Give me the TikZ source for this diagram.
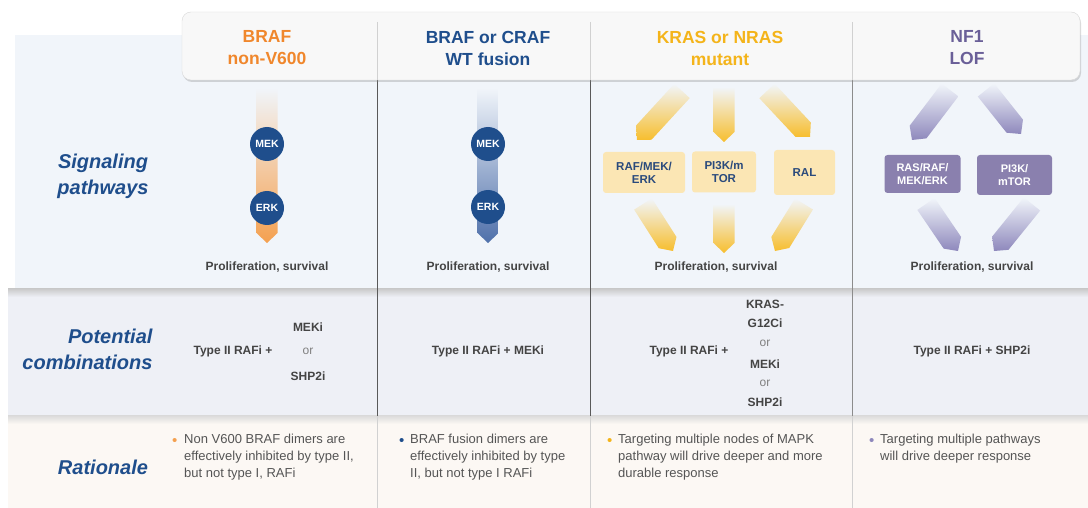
\documentclass[tikz,border=0pt]{standalone}
\usepackage{fontspec}
\setmainfont{Liberation Sans}
\usetikzlibrary{calc,shadows}
\definecolor{navy}{HTML}{1F4E8C}
\definecolor{sigbg}{HTML}{F1F5FA}
\definecolor{combg}{HTML}{EEF0F6}
\definecolor{ratbg}{HTML}{FCF8F4}
\definecolor{hdrbg}{HTML}{F8F8F8}
\definecolor{orhdr}{HTML}{F0872C}
\definecolor{orarr}{HTML}{F4A04F}
\definecolor{blarr}{HTML}{4F70AA}
\definecolor{goldhdr}{HTML}{F4B41A}
\definecolor{yelarr}{HTML}{F7BE2E}
\definecolor{yelbox}{HTML}{FBE6B4}
\definecolor{boxtxt}{HTML}{2A4A7C}
\definecolor{purhdr}{HTML}{6A5F98}
\definecolor{purarr}{HTML}{8E88BC}
\definecolor{purbox}{HTML}{8A80AE}
\definecolor{txtgray}{HTML}{444444}
\definecolor{ratgray}{HTML}{555555}
\newcommand\grarrow[4]{%
  \coordinate (ab) at ($(#2)!10pt!(#1)$);
  \shade[top color=#3,bottom color=#4]
    ($(#1)!10.5pt!90:(#2)$) -- ($(ab)!10.5pt!-90:(#1)$) -- (#2) --
    ($(ab)!10.5pt!90:(#1)$) -- ($(#1)!10.5pt!-90:(#2)$) -- cycle;}
\begin{document}
\begin{tikzpicture}[x=1pt,y=-1pt,
  rowlab/.style={font=\fontsize{20}{26}\selectfont\bfseries\itshape, text=navy},
  hdr/.style={font=\fontsize{17.5}{22}\selectfont\bfseries, align=center},
  prolif/.style={font=\fontsize{12}{14}\selectfont\bfseries, text=txtgray},
  circ/.style={circle, fill=navy, minimum size=34pt, inner sep=0pt, text=white, font=\fontsize{10.5}{12}\selectfont\bfseries},
  ybox/.style={fill=yelbox, rounded corners=3pt, text=boxtxt, align=center, inner sep=0pt, font=\fontsize{11.5}{13}\selectfont\bfseries},
  pbox/.style={fill=purbox, rounded corners=3pt, text=white, align=center, inner sep=0pt, font=\fontsize{11}{13}\selectfont\bfseries},
  comb/.style={font=\fontsize{12}{14}\selectfont\bfseries, text=txtgray},
  ortxt/.style={font=\fontsize{12}{14}\selectfont, text=gray},
  rat/.style={font=\fontsize{13}{17}\selectfont, text=ratgray, align=left, anchor=north west, inner sep=0pt},
  bul/.style={font=\fontsize{15}{15}\selectfont, anchor=west, inner sep=0pt},
  divline/.style={draw=black!65, line width=0.8pt},
  faint/.style={draw=black!18, line width=0.6pt}]
\useasboundingbox (0,0) rectangle (1088,508);
\fill[white] (0,0) rectangle (1088,508);
% bands
\fill[sigbg] (15,35) rectangle (1088,288);
\fill[combg] (8,289) rectangle (1088,415);
\fill[ratbg] (8,416) rectangle (1088,508);
\shade[top color=black!22, bottom color=combg] (8,288) rectangle (1088,297);
\shade[top color=black!15, bottom color=ratbg] (8,415) rectangle (1088,424);
% column dividers
\draw[divline] (377,80) -- (377,416);
\draw[divline] (590,80) -- (590,416);
\draw[draw=black!45, line width=0.7pt] (852,80) -- (852,416);
\draw[faint] (377,416) -- (377,508);
\draw[faint] (590,416) -- (590,508);
\draw[faint] (852,416) -- (852,508);
% header
\filldraw[fill=hdrbg, draw=black!15, rounded corners=9pt, drop shadow={opacity=0.3, shadow xshift=1pt, shadow yshift=-2pt}] (182,12) rectangle (1080,80);
\draw[faint] (377,22) -- (377,80);
\draw[faint] (590,22) -- (590,80);
\draw[faint] (852,22) -- (852,80);
\node[hdr, text=orhdr] (h1) at (267,48) {BRAF\\non-V600};
\node[hdr, text=navy] (h2) at (488,48) {BRAF or CRAF\\WT fusion};
\node[hdr, text=goldhdr] (h3) at (720,48) {KRAS or NRAS\\mutant};
\node[hdr, text=purhdr] (h4) at (967,48) {NF1\\LOF};
% row labels
\node[rowlab, align=center] (l1) at (103,176) {Signaling\\pathways};
\node[rowlab, align=right, anchor=east] (l2) at (156,349) {Potential\\combinations};
\node[rowlab] (l3) at (103,467) {Rationale};
% column 1
\coordinate (a1s) at (267,88); \coordinate (a1e) at (267,243);
\grarrow{a1s}{a1e}{sigbg}{orarr}
\node[circ] (mek1) at (267,144) {MEK};
\node[circ] (erk1) at (267,208) {ERK};
\node[prolif] (p1) at (267,267) {Proliferation, survival};
% column 2
\coordinate (a2s) at (488,88); \coordinate (a2e) at (488,243);
\grarrow{a2s}{a2e}{sigbg}{blarr}
\node[circ] (mek2) at (488,144) {MEK};
\node[circ] (erk2) at (488,207) {ERK};
\node[prolif] (p2) at (488,267) {Proliferation, survival};
% column 3
\coordinate (c3a) at (682,91); \coordinate (c3b) at (637,140);
\coordinate (c3c) at (724,87); \coordinate (c3d) at (724,142);
\coordinate (c3e) at (767,91); \coordinate (c3f) at (810,137);
\grarrow{c3a}{c3b}{sigbg}{yelarr}
\grarrow{c3c}{c3d}{sigbg}{yelarr}
\grarrow{c3e}{c3f}{sigbg}{yelarr}
\node[ybox, minimum width=82pt, minimum height=41pt] (raf3) at (644,172.5) {RAF/MEK/\\ERK};
\node[ybox, minimum width=64pt, minimum height=41pt] (pi3) at (724,172) {PI3K/m\\TOR};
\node[ybox, minimum width=61pt, minimum height=45pt] (ral3) at (804.5,172.5) {RAL};
\coordinate (c3g) at (643,204); \coordinate (c3h) at (673,251);
\coordinate (c3i) at (724,204); \coordinate (c3j) at (724,253);
\coordinate (c3k) at (804,204); \coordinate (c3l) at (775,251);
\grarrow{c3g}{c3h}{sigbg}{yelarr}
\grarrow{c3i}{c3j}{sigbg}{yelarr}
\grarrow{c3k}{c3l}{sigbg}{yelarr}
\node[prolif] (p3) at (716,267) {Proliferation, survival};
% column 4
\coordinate (c4a) at (950,90); \coordinate (c4b) at (912,140);
\coordinate (c4c) at (986,90); \coordinate (c4d) at (1021,134);
\grarrow{c4a}{c4b}{sigbg}{purarr}
\grarrow{c4c}{c4d}{sigbg}{purarr}
\node[pbox, minimum width=76pt, minimum height=38pt] (ras4) at (922.5,174) {RAS/RAF/\\MEK/ERK};
\node[pbox, minimum width=75pt, minimum height=40pt] (pi4) at (1014.5,175) {PI3K/\\mTOR};
\coordinate (c4e) at (926,204); \coordinate (c4f) at (958,251);
\coordinate (c4g) at (1032,204); \coordinate (c4h) at (994,251);
\grarrow{c4e}{c4f}{sigbg}{purarr}
\grarrow{c4g}{c4h}{sigbg}{purarr}
\node[prolif] (p4) at (972,267) {Proliferation, survival};
% combinations
\node[comb] (t1) at (233,351) {Type II RAFi +};
\node[comb] (t1a) at (308,327) {MEKi};
\node[ortxt] (t1b) at (308,351) {or};
\node[comb] (t1c) at (308,376) {SHP2i};
\node[comb] (t2) at (488,351) {Type II RAFi + MEKi};
\node[comb] (t3) at (689,351) {Type II RAFi +};
\node[comb] (t3a) at (765,304) {KRAS-};
\node[comb] (t3b) at (765,323) {G12Ci};
\node[ortxt] (t3c) at (765,343) {or};
\node[comb] (t3d) at (765,364) {MEKi};
\node[ortxt] (t3e) at (765,383) {or};
\node[comb] (t3f) at (765,402) {SHP2i};
\node[comb] (t4) at (972,351) {Type II RAFi + SHP2i};
% rationale
\node[bul, text=orarr] (b1) at (172,442) {•};
\node[rat] (r1) at (184,434) {Non V600 BRAF dimers are\\effectively inhibited by type II,\\but not type I, RAFi};
\node[bul, text=navy] (b2) at (399,442) {•};
\node[rat] (r2) at (410,434) {BRAF fusion dimers are\\effectively inhibited by type\\II, but not type I RAFi};
\node[bul, text=goldhdr] (b3) at (607,442) {•};
\node[rat] (r3) at (618,434) {Targeting multiple nodes of MAPK\\pathway will drive deeper and more\\durable response};
\node[bul, text=purarr] (b4) at (869,442) {•};
\node[rat] (r4) at (880,434) {Targeting multiple pathways\\will drive deeper response};
\end{tikzpicture}
\end{document}
